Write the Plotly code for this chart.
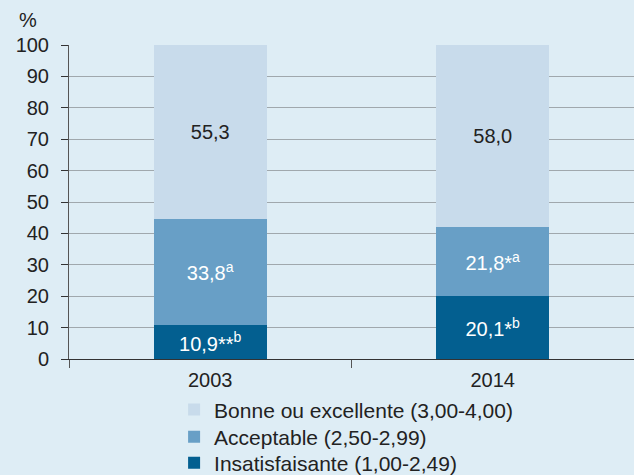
import plotly.graph_objects as go

years = ["2003", "2014"]
series_names = ["Insatisfaisante (1,00-2,49)", "Acceptable (2,50-2,99)", "Bonne ou excellente (3,00-4,00)"]
insat = [10.9, 20.1]
accept = [33.8, 21.8]
bonne = [55.3, 58.0]
insat_labels = ["10,9**<sup>b</sup>", "20,1*<sup>b</sup>"]
accept_labels = ["33,8<sup>a</sup>", "21,8*<sup>a</sup>"]
bonne_labels = ["55,3", "58,0"]
y_ticks = list(range(0, 101, 10))

colors = ["#035f90", "#689fc6", "#c8dbeb"]
text_colors = ["white", "white", "#222222"]
legend_ids = ["legend3", "legend2", "legend"]
legend_y = [0.025, 0.080, 0.137]  # container coords, one row each

fig = go.Figure()
for name, vals, labs, c, tc, lg in zip(series_names, [insat, accept, bonne],
                                       [insat_labels, accept_labels, bonne_labels],
                                       colors, text_colors, legend_ids):
    fig.add_trace(go.Bar(
        x=years, y=vals, name=name, text=labs, textposition="inside",
        insidetextanchor="middle", textangle=0,
        textfont=dict(color=tc, size=20, family="Liberation Sans"),
        marker=dict(color=c, line=dict(width=0)), width=0.4,
        hoverinfo="skip", legend=lg,
    ))

legend_common = dict(x=0.186, xanchor="left", yanchor="middle", xref="paper",
                     yref="container", bgcolor="rgba(0,0,0,0)",
                     font=dict(size=21, family="Liberation Sans", color="#222222"),
                     itemsizing="constant")
fig.update_layout(
    barmode="stack",
    width=634, height=475,
    margin=dict(l=69, r=0, t=45, b=116),
    paper_bgcolor="#deedf5", plot_bgcolor="#deedf5",
    font=dict(family="Liberation Sans", size=20, color="#222222"),
    showlegend=True,
    legend=dict(y=legend_y[2], **legend_common),
    legend2=dict(y=legend_y[1], **legend_common),
    legend3=dict(y=legend_y[0], **legend_common),
    annotations=[dict(text="%", x=-0.092, y=1.0, xref="paper", yref="paper",
                      xanchor="left", yanchor="bottom", showarrow=False,
                      font=dict(size=20), yshift=12)],
)
fig.update_yaxes(range=[0, 100], tickvals=y_ticks, showgrid=True, gridcolor="#a0a8ad",
                 gridwidth=1, ticks="outside", ticklen=7, tickcolor="#333333",
                 showline=True, linecolor="#555555", linewidth=1, zeroline=False,
                 ticklabelstandoff=8, automargin=False)
fig.update_xaxes(range=[-0.5, 1.5], ticks="outside", tickson="boundaries", ticklen=8,
                 tickcolor="#555555", showline=True, linecolor="#333333", linewidth=1,
                 showgrid=False, ticklabelstandoff=3, automargin=False)

fig.write_html("out.html", config={"displayModeBar": False},
               post_script="document.body.style.margin='0';document.body.style.overflow='hidden';")
